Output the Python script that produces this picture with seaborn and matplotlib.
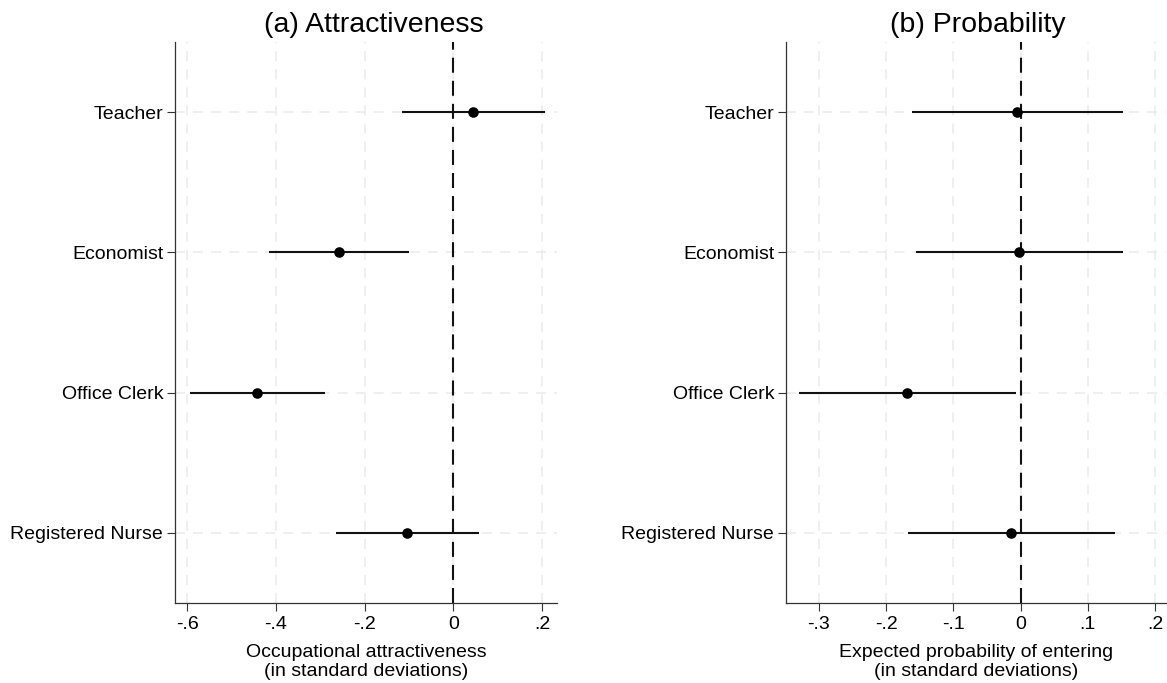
import matplotlib
matplotlib.use("Agg")
import matplotlib.pyplot as plt
import seaborn as sns
import pandas as pd
from matplotlib.ticker import FixedLocator, FixedFormatter

# Estimates with 95% confidence intervals, one row per occupation
occupations = ["Teacher", "Economist", "Office Clerk", "Registered Nurse"]

attr_est = [0.045, -0.258, -0.442, -0.104]
attr_lo = [-0.115, -0.416, -0.594, -0.265]
attr_hi = [0.207, -0.099, -0.289, 0.058]

prob_est = [-0.006, -0.002, -0.169, -0.014]
prob_lo = [-0.162, -0.156, -0.329, -0.168]
prob_hi = [0.152, 0.152, -0.007, 0.140]

attr_ticks = [-0.6, -0.4, -0.2, 0.0, 0.2]
attr_ticklabels = ["-.6", "-.4", "-.2", "0", ".2"]
prob_ticks = [-0.3, -0.2, -0.1, 0.0, 0.1, 0.2]
prob_ticklabels = ["-.3", "-.2", "-.1", "0", ".1", ".2"]

sns.set_theme(style="white")
plt.rcParams["font.family"] = ["Liberation Sans", "DejaVu Sans"]
plt.rcParams["lines.scale_dashes"] = False
plt.rcParams["text.color"] = "black"

fig = plt.figure(figsize=(11.67, 6.83), dpi=100)
ax_a = fig.add_axes([0.150, 0.1171, 0.3273, 0.8214])
ax_b = fig.add_axes([0.6735, 0.1171, 0.3260, 0.8214])


def draw_panel(ax, est, lo, hi, ticks, ticklabels, xlim, xlabel):
    df = pd.DataFrame({
        "pos": range(len(occupations)),
        "occupation": occupations,
        "est": est,
        "lo": lo,
        "hi": hi,
    })
    ax.set_xlim(*xlim)
    ax.set_ylim(len(occupations) - 0.5, -0.5)

    # light dashed grid at every tick
    for t in ticks:
        ax.axvline(t, color="#ebebeb", lw=1.1, linestyle=(0, (7.2, 5.8)), zorder=0)
    for p in df["pos"]:
        ax.axhline(p, color="#ebebeb", lw=1.1, linestyle=(0, (7.2, 5.8)), zorder=0)

    # reference line at zero
    ax.axvline(0, color="#111111", lw=1.5, linestyle=(0, (10.8, 5.8)), zorder=1)

    # confidence intervals
    ax.hlines(df["pos"], df["lo"], df["hi"], color="#111111", lw=1.5, zorder=2)
    # point estimates
    sns.scatterplot(data=df, x="est", y="pos", ax=ax, color="black",
                    s=58, edgecolor="black", linewidth=0, zorder=3, legend=False)

    ax.xaxis.set_major_locator(FixedLocator(ticks))
    ax.xaxis.set_major_formatter(FixedFormatter(ticklabels))
    ax.yaxis.set_major_locator(FixedLocator(list(df["pos"])))
    ax.yaxis.set_major_formatter(FixedFormatter(occupations))

    ax.tick_params(axis="both", which="major", direction="out", length=5.5,
                   width=0.8, color="#333333", labelsize=14, labelcolor="black",
                   bottom=True, left=True)
    ax.tick_params(axis="x", pad=4)
    ax.tick_params(axis="y", pad=3)
    ax.set_ylabel("")
    ax.set_xlabel(xlabel, fontsize=14, color="black", linespacing=1.12, labelpad=8)

    for side in ["top", "right"]:
        ax.spines[side].set_visible(False)
    for side in ["left", "bottom"]:
        ax.spines[side].set_color("#333333")
        ax.spines[side].set_linewidth(0.9)
    ax.set_facecolor("white")


draw_panel(ax_a, attr_est, attr_lo, attr_hi, attr_ticks, attr_ticklabels,
           (-0.6275, 0.234),
           "Occupational attractiveness\n(in standard deviations)")
draw_panel(ax_b, prob_est, prob_lo, prob_hi, prob_ticks, prob_ticklabels,
           (-0.349, 0.217),
           "Expected probability of entering\n(in standard deviations)")

fig.text(0.320, 0.953, "(a) Attractiveness", fontsize=20.5, ha="center",
         va="baseline", color="black")
fig.text(0.8376, 0.953, "(b) Probability", fontsize=20.5, ha="center",
         va="baseline", color="black")

fig.savefig("out.png", dpi=100, facecolor="white")
